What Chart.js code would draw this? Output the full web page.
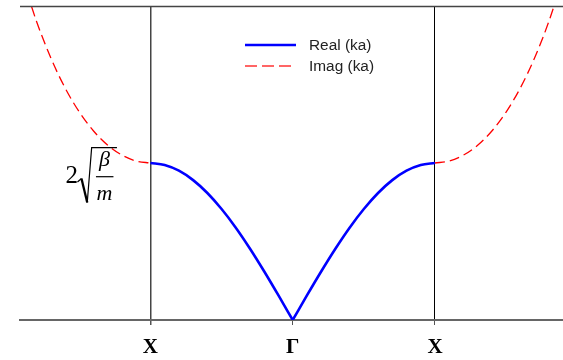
<!DOCTYPE html>
<html>
<head>
<meta charset="utf-8">
<script src="https://cdn.jsdelivr.net/npm/chart.js@4/dist/chart.umd.min.js"></script>
<style>
  html, body { margin: 0; padding: 0; background: #fff; }
</style>
</head>
<body>
<canvas id="c" width="563" height="360"></canvas>
<script>
// Wave number ka in units of pi (first Brillouin zone = -1 .. 1)
const kRealLeft  = [-1.0, -0.9, -0.8, -0.7, -0.6, -0.5, -0.4, -0.3, -0.2, -0.1, 0.0];
const kRealRight = [0.0, 0.1, 0.2, 0.3, 0.4, 0.5, 0.6, 0.7, 0.8, 0.9, 1.0];
const kImagLeft  = [-1.9, -1.8, -1.7, -1.6, -1.5, -1.4, -1.3, -1.2, -1.1, -1.0];
const kImagRight = [1.0, 1.1, 1.2, 1.3, 1.4, 1.5, 1.6, 1.7, 1.8, 1.9];

// Frequency in units of sqrt(beta/m)
const omegaRealLeft  = [2.000, 1.975, 1.902, 1.782, 1.618, 1.414, 1.176, 0.908, 0.618, 0.313, 0.000];
const omegaRealRight = [0.000, 0.313, 0.618, 0.908, 1.176, 1.414, 1.618, 1.782, 1.902, 1.975, 2.000];
const omegaImagLeft  = [4.356, 3.800, 3.337, 2.956, 2.649, 2.408, 2.226, 2.100, 2.025, 2.000];
const omegaImagRight = [2.000, 2.025, 2.100, 2.226, 2.408, 2.649, 2.956, 3.337, 3.800, 4.356];

// Symmetry points on the k axis
const tickPositions = [-1, 0, 1];
const tickLabels = ['X', 'Γ', 'X'];

// Legend entries
const seriesNames = ['Real (ka)', 'Imag (ka)'];

const pts = (xs, ys) => xs.map((x, i) => ({ x, y: ys[i] }));

const BLUE = '#0000ff';
const RED = '#ff0000';

const realStyle = {
  borderColor: BLUE, borderWidth: 2.6, pointRadius: 0,
  cubicInterpolationMode: 'monotone', fill: false
};
const imagStyle = {
  borderColor: RED, borderWidth: 1.3, pointRadius: 0, borderDash: [10, 5],
  cubicInterpolationMode: 'monotone', fill: false
};

// Frame line on top, legend and the 2*sqrt(beta/m) marker
const decorations = {
  id: 'decorations',
  afterDatasetsDraw(chart) {
    const { ctx, chartArea: a, scales } = chart;
    const y = scales.y, x = scales.x;
    ctx.save();

    // top frame line
    ctx.strokeStyle = '#444';
    ctx.lineWidth = 1.5;
    ctx.beginPath();
    ctx.moveTo(a.left, a.top + 0.5);
    ctx.lineTo(a.right, a.top + 0.5);
    ctx.stroke();

    // legend
    const lx0 = 245, lx1 = 296, tx = 309;
    const ly = [45, 66];
    ctx.lineCap = 'butt';
    ctx.strokeStyle = BLUE; ctx.lineWidth = 2.6;
    ctx.beginPath(); ctx.moveTo(lx0, ly[0]); ctx.lineTo(lx1, ly[0]); ctx.stroke();
    ctx.strokeStyle = '#ff3333'; ctx.lineWidth = 1.3; ctx.setLineDash([12, 5]);
    ctx.beginPath(); ctx.moveTo(lx0, ly[1]); ctx.lineTo(lx1, ly[1]); ctx.stroke();
    ctx.setLineDash([]);
    ctx.fillStyle = '#222';
    ctx.font = '14px "Liberation Sans", Arial, sans-serif';
    ctx.textBaseline = 'middle';
    ctx.textAlign = 'left';
    seriesNames.forEach((name, i) => {
      ctx.save();
      ctx.translate(tx, ly[i] + 1);
      ctx.scale(1.1, 1);
      ctx.fillText(name, 0, 0);
      ctx.restore();
    });

    // 2*sqrt(beta/m) next to the zone-edge frequency
    const yc = y.getPixelForValue(2);      // level of the maximum frequency
    const xr = x.getPixelForValue(-1);     // zone edge
    const ox = xr - 150.5, oy = yc - 163;
    ctx.fillStyle = '#000';
    ctx.strokeStyle = '#000';
    ctx.textBaseline = 'alphabetic';
    ctx.textAlign = 'left';
    ctx.font = '25px "Liberation Serif", "Times New Roman", serif';
    ctx.fillText('2', 65.5 + ox, 183 + oy);
    // radical sign
    ctx.lineWidth = 1.2;
    ctx.beginPath();
    ctx.moveTo(77.5 + ox, 182 + oy);
    ctx.lineTo(81.5 + ox, 178.5 + oy);
    ctx.stroke();
    ctx.lineWidth = 2.3;
    ctx.beginPath();
    ctx.moveTo(81.5 + ox, 178.5 + oy);
    ctx.lineTo(87.3 + ox, 202.5 + oy);
    ctx.stroke();
    ctx.lineWidth = 1.2;
    ctx.beginPath();
    ctx.moveTo(87.3 + ox, 202.5 + oy);
    ctx.lineTo(91.7 + ox, 147.7 + oy);
    ctx.lineTo(117 + ox, 147.7 + oy);
    ctx.stroke();
    // fraction beta / m
    ctx.textAlign = 'center';
    ctx.font = 'italic 22px "Liberation Serif", "Times New Roman", serif';
    ctx.fillText('β', 104.5 + ox, 166 + oy);
    ctx.fillText('m', 104.5 + ox, 200 + oy);
    ctx.lineWidth = 1.2;
    ctx.beginPath();
    ctx.moveTo(96 + ox, 176.7 + oy);
    ctx.lineTo(113.5 + ox, 176.7 + oy);
    ctx.stroke();

    ctx.restore();
  }
};

new Chart(document.getElementById('c'), {
  type: 'line',
  data: {
    datasets: [
      { label: seriesNames[0], data: pts(kRealLeft, omegaRealLeft), ...realStyle },
      { label: seriesNames[0], data: pts(kRealRight, omegaRealRight), ...realStyle },
      { label: seriesNames[1], data: pts(kImagLeft, omegaImagLeft), ...imagStyle },
      { label: seriesNames[1], data: pts(kImagRight, omegaImagRight), ...imagStyle }
    ]
  },
  options: {
    responsive: false,
    animation: false,
    layout: { padding: { left: 20, right: 0, top: 6, bottom: 0 } },
    plugins: { legend: { display: false }, tooltip: { enabled: false } },
    scales: {
      x: {
        type: 'linear',
        min: -1.917,
        max: 1.9,
        afterBuildTicks: (axis) => { axis.ticks = tickPositions.map(v => ({ value: v })); },
        afterFit: (axis) => { axis.height = 40; },
        ticks: {
          autoSkip: false,
          maxRotation: 0,
          padding: 10,
          color: '#000',
          font: { family: '"Liberation Serif", "Times New Roman", serif', size: 21, weight: 'bold' },
          callback: (v) => tickLabels[tickPositions.indexOf(v)]
        },
        grid: {
          drawOnChartArea: true,
          tickLength: 5,
          lineWidth: (c) => (c.tick && c.tick.value < 0 ? 1.5 : 1),
          color: (c) => {
            if (!c.tick) return 'rgba(0,0,0,0)';
            if (c.tick.value === 0) return 'rgba(0,0,0,0)';
            return c.tick.value < 0 ? '#444' : '#000';
          },
          tickColor: '#555'
        },
        border: { display: true, color: '#666', width: 2 }
      },
      y: {
        display: false,
        min: 0,
        max: 4
      }
    }
  },
  plugins: [decorations]
});
</script>
</body>
</html>
